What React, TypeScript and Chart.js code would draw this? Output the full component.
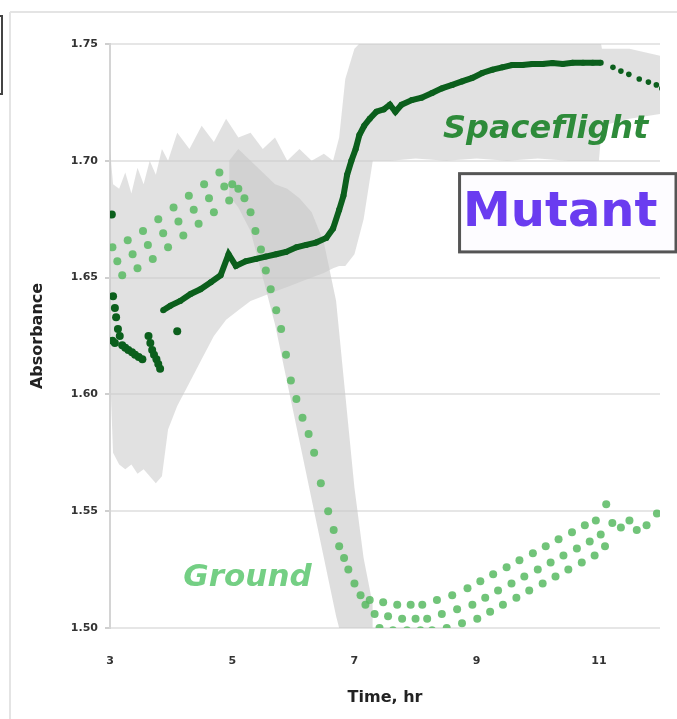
import React, { useEffect, useRef } from 'react';
import { Chart, registerables } from 'chart.js';
Chart.register(...registerables);

// Axis ticks
const xTicks = [3, 5, 7, 9, 11];
const yTickStep = 0.05;

// Spaceflight (dark green) – early falling streaks
const sfEarlyX = [3.03, 3.05, 3.08, 3.1, 3.13, 3.16, 3.04, 3.08, 3.2, 3.25, 3.3, 3.36, 3.41, 3.47, 3.53, 3.63, 3.66, 3.69, 3.72, 3.76, 3.79, 3.82, 4.1];
const sfEarlyY = [1.677, 1.642, 1.637, 1.633, 1.628, 1.625, 1.623, 1.622, 1.621, 1.62, 1.619, 1.618, 1.617, 1.616, 1.615, 1.625, 1.622, 1.619, 1.617, 1.615, 1.613, 1.611, 1.627];

// Spaceflight main curve
const sfMainX = [3.87, 3.99, 4.15, 4.32, 4.48, 4.65, 4.81, 4.94, 5.06, 5.22, 5.39, 5.55, 5.72, 5.88, 6.05, 6.21, 6.37, 6.54, 6.65, 6.75, 6.82, 6.88, 6.95, 7.02, 7.08, 7.16, 7.25, 7.36, 7.48, 7.58, 7.67, 7.77, 7.94, 8.1, 8.27, 8.43, 8.6, 8.76, 8.93, 9.09, 9.26, 9.42, 9.58, 9.75, 9.91, 10.08, 10.24, 10.41, 10.57, 10.74, 10.9, 11.03];
const sfMainY = [1.636, 1.638, 1.64, 1.643, 1.645, 1.648, 1.651, 1.66, 1.655, 1.657, 1.658, 1.659, 1.66, 1.661, 1.663, 1.664, 1.665, 1.667, 1.671, 1.679, 1.685, 1.694, 1.7, 1.705, 1.711, 1.715, 1.718, 1.721, 1.722, 1.724, 1.721, 1.724, 1.726, 1.727, 1.729, 1.731, 1.7325, 1.734, 1.7355, 1.7376, 1.739, 1.74, 1.741, 1.741, 1.7414, 1.7414, 1.7419, 1.7414, 1.742, 1.742, 1.742, 1.742];

// Spaceflight tail dots
const sfTailX = [11.23, 11.36, 11.49, 11.66, 11.81, 11.94, 12.03];
const sfTailY = [1.74, 1.7384, 1.737, 1.735, 1.7337, 1.7325, 1.731];

// Ground (light green) points
const groundX = [
  3.04, 3.12, 3.2, 3.29, 3.37, 3.45, 3.54, 3.62, 3.7, 3.79, 3.87, 3.95,
  4.04, 4.12, 4.2, 4.29, 4.37, 4.45, 4.54, 4.62, 4.7, 4.79, 4.87, 4.95,
  5.0, 5.1, 5.2, 5.3, 5.38, 5.47, 5.55, 5.63, 5.72, 5.8, 5.88, 5.96, 6.05, 6.15, 6.25, 6.34, 6.45, 6.57, 6.66, 6.75, 6.83, 6.9, 7.0, 7.1, 7.18,
  7.25, 7.33, 7.41, 7.47, 7.55, 7.63, 7.7, 7.78, 7.86, 7.92, 8.0, 8.08,
  8.11, 8.19, 8.27, 8.35, 8.43, 8.51, 8.6, 8.68, 8.76, 8.85, 8.93, 9.01,
  9.06, 9.14, 9.22, 9.27, 9.35, 9.43, 9.49, 9.57, 9.65, 9.7, 9.78, 9.86,
  9.92, 10.0, 10.08, 10.13, 10.21, 10.29, 10.34, 10.42, 10.5, 10.56, 10.64, 10.72,
  10.77, 10.85, 10.93, 10.95, 11.03, 11.1,
  11.12, 11.22, 11.36, 11.5, 11.62, 11.78, 11.95
];
const groundY = [
  1.663, 1.657, 1.651, 1.666, 1.66, 1.654, 1.67, 1.664, 1.658, 1.675, 1.669, 1.663,
  1.68, 1.674, 1.668, 1.685, 1.679, 1.673, 1.69, 1.684, 1.678, 1.695, 1.689, 1.683,
  1.69, 1.688, 1.684, 1.678, 1.67, 1.662, 1.653, 1.645, 1.636, 1.628, 1.617, 1.606, 1.598, 1.59, 1.583, 1.575, 1.562, 1.55, 1.542, 1.535, 1.53, 1.525, 1.519, 1.514, 1.51,
  1.512, 1.506, 1.5, 1.511, 1.505, 1.499, 1.51, 1.504, 1.499, 1.51, 1.504, 1.499,
  1.51, 1.504, 1.499, 1.512, 1.506, 1.5, 1.514, 1.508, 1.502, 1.517, 1.51, 1.504,
  1.52, 1.513, 1.507, 1.523, 1.516, 1.51, 1.526, 1.519, 1.513, 1.529, 1.522, 1.516,
  1.532, 1.525, 1.519, 1.535, 1.528, 1.522, 1.538, 1.531, 1.525, 1.541, 1.534, 1.528,
  1.544, 1.537, 1.531, 1.546, 1.54, 1.535,
  1.553, 1.545, 1.543, 1.546, 1.542, 1.544, 1.549
];

// Spaceflight error band
const sfBandX = [3.0, 3.05, 3.15, 3.25, 3.35, 3.45, 3.55, 3.65, 3.75, 3.85, 3.95, 4.1, 4.3, 4.5, 4.7, 4.9, 5.1, 5.3, 5.5, 5.7, 5.9, 6.1, 6.3, 6.5, 6.65, 6.75, 6.85, 7.0, 7.15, 7.3, 7.6, 8.0, 8.5, 9.0, 9.5, 10.0, 10.5, 11.0, 11.05, 11.5, 12.0];
const sfBandUpper = [1.705, 1.69, 1.688, 1.695, 1.686, 1.697, 1.69, 1.7, 1.694, 1.705, 1.7, 1.712, 1.705, 1.715, 1.708, 1.718, 1.71, 1.712, 1.705, 1.71, 1.7, 1.705, 1.7, 1.703, 1.7, 1.71, 1.735, 1.748, 1.752, 1.755, 1.755, 1.755, 1.755, 1.755, 1.755, 1.755, 1.755, 1.755, 1.748, 1.748, 1.745];
const sfBandLower = [1.61, 1.575, 1.57, 1.568, 1.57, 1.566, 1.568, 1.565, 1.562, 1.565, 1.585, 1.595, 1.605, 1.615, 1.625, 1.632, 1.636, 1.64, 1.642, 1.644, 1.646, 1.648, 1.65, 1.652, 1.654, 1.655, 1.655, 1.66, 1.675, 1.7, 1.7, 1.701, 1.7, 1.701, 1.7, 1.701, 1.7, 1.7, 1.715, 1.718, 1.72];

// Ground error band
const gBandX = [4.95, 5.1, 5.3, 5.5, 5.7, 5.9, 6.1, 6.3, 6.5, 6.7, 6.85, 7.0, 7.15, 7.3];
const gBandUpper = [1.7, 1.705, 1.7, 1.695, 1.69, 1.688, 1.684, 1.678, 1.665, 1.64, 1.6, 1.56, 1.53, 1.51];
const gBandLower = [1.685, 1.68, 1.67, 1.65, 1.63, 1.605, 1.58, 1.555, 1.53, 1.505, 1.49, 1.49, 1.49, 1.49];

const zip = (xs: number[], ys: number[]) => xs.map((x, i) => ({ x, y: ys[i] }));

const DARK = '#0b5f1c';

const decor = {
  id: 'decor',
  beforeDraw(chart: any) {
    const { ctx, width, height } = chart;
    ctx.save();
    ctx.fillStyle = '#ffffff';
    ctx.fillRect(0, 0, width, height);
    ctx.strokeStyle = '#e4e4e4';
    ctx.lineWidth = 2;
    ctx.beginPath();
    ctx.moveTo(10, 12);
    ctx.lineTo(width, 12);
    ctx.moveTo(10, 12);
    ctx.lineTo(10, height);
    ctx.stroke();
    ctx.strokeStyle = '#444';
    ctx.lineWidth = 2;
    ctx.strokeRect(-4, 16, 6, 78);
    ctx.restore();
  },
  afterDraw(chart: any) {
    const { ctx, width } = chart;
    const xs = chart.scales.x;
    const ys = chart.scales.y;
    ctx.save();
    ctx.textAlign = 'center';
    ctx.textBaseline = 'middle';
    ctx.fillStyle = '#2e8b3a';
    ctx.font = 'italic bold 32px "DejaVu Sans"';
    ctx.fillText('Spaceflight', xs.getPixelForValue(10.13), ys.getPixelForValue(1.7135));
    ctx.fillStyle = '#74cf84';
    ctx.font = 'italic bold 31px "DejaVu Sans"';
    ctx.fillText('Ground', xs.getPixelForValue(5.25), ys.getPixelForValue(1.5214));
    const left = xs.getPixelForValue(8.72);
    const top = ys.getPixelForValue(1.6945);
    const bottom = ys.getPixelForValue(1.661);
    ctx.fillStyle = '#fdfcff';
    ctx.fillRect(left, top, width - 1 - left, bottom - top);
    ctx.strokeStyle = '#555';
    ctx.lineWidth = 3;
    ctx.strokeRect(left, top, width - 1 - left, bottom - top);
    ctx.fillStyle = '#6a3cf0';
    ctx.font = 'bold 48px "DejaVu Sans"';
    ctx.fillText('Mutant', (left + width) / 2 - 8, (top + bottom) / 2 + 1);
    ctx.restore();
  },
};

export default function App() {
  const ref = useRef<HTMLCanvasElement>(null);
  useEffect(() => {
    document.body.style.margin = '0';
    const chart = new Chart(ref.current as HTMLCanvasElement, {
      type: 'line',
      data: {
        datasets: [
          { label: 'sfBandUpper', order: 10, data: zip(sfBandX, sfBandUpper), borderWidth: 0, pointRadius: 0, fill: false, borderColor: 'rgba(0,0,0,0)' },
          { label: 'sfBandLower', order: 9, data: zip(sfBandX, sfBandLower), borderWidth: 0, pointRadius: 0, fill: '-1', borderColor: 'rgba(0,0,0,0)', backgroundColor: 'rgba(200,200,200,0.55)' },
          { label: 'gBandUpper', order: 8, data: zip(gBandX, gBandUpper), borderWidth: 0, pointRadius: 0, fill: false, borderColor: 'rgba(0,0,0,0)' },
          { label: 'gBandLower', order: 7, data: zip(gBandX, gBandLower), borderWidth: 0, pointRadius: 0, fill: '-1', borderColor: 'rgba(0,0,0,0)', backgroundColor: 'rgba(200,200,200,0.6)' },
          { label: 'Ground', order: 4, data: zip(groundX, groundY), showLine: false, pointRadius: 4, pointBorderWidth: 0, pointBackgroundColor: 'rgba(88,186,98,0.85)', borderColor: 'rgba(88,186,98,0.85)' },
          { label: 'SpaceflightEarly', order: 3, data: zip(sfEarlyX, sfEarlyY), showLine: false, pointRadius: 4, pointBorderWidth: 0, pointBackgroundColor: DARK, borderColor: DARK },
          { label: 'Spaceflight', order: 2, data: zip(sfMainX, sfMainY), borderWidth: 6, borderColor: DARK, pointRadius: 3, pointBorderWidth: 0, pointBackgroundColor: DARK, fill: false, tension: 0 },
          { label: 'SpaceflightTail', order: 1, data: zip(sfTailX, sfTailY), showLine: false, pointRadius: 2.8, pointBorderWidth: 0, pointBackgroundColor: DARK, borderColor: DARK },
        ],
      },
      options: {
        responsive: false,
        animation: false,
        devicePixelRatio: 1,
        parsing: false as any,
        layout: { padding: { top: 44, right: 17, left: 0, bottom: 0 } },
        plugins: { legend: { display: false }, tooltip: { enabled: false } },
        scales: {
          x: {
            type: 'linear',
            min: 3,
            max: 12,
            afterBuildTicks: (scale: any) => { scale.ticks = xTicks.map((v) => ({ value: v })); },
            afterFit: (scale: any) => { scale.height = 91; },
            grid: { display: false, drawTicks: false },
            border: { display: false },
            ticks: { padding: 27, color: '#333', font: { family: 'DejaVu Sans', size: 11, weight: 'bold' } },
            title: { display: true, text: 'Time, hr', color: '#222', padding: { top: 0, bottom: 12 }, font: { family: 'DejaVu Sans', size: 16, weight: 'bold' } },
          },
          y: {
            min: 1.5,
            max: 1.75,
            afterFit: (scale: any) => { scale.width = 110; },
            ticks: { stepSize: yTickStep, padding: 7, color: '#333', callback: (v: any) => Number(v).toFixed(2), font: { family: 'DejaVu Sans', size: 11, weight: 'bold' } },
            grid: { color: '#e6e6e6', lineWidth: 2, tickLength: 5, tickColor: '#cfcfcf' },
            border: { display: true, color: '#d4d4d4', width: 2 },
            title: { display: true, text: 'Absorbance', color: '#222', padding: { top: 28, bottom: 0 }, font: { family: 'DejaVu Sans', size: 16, weight: 'bold' } },
          },
        },
      },
      plugins: [decor],
    } as any);
    return () => chart.destroy();
  }, []);
  return (
    <div style={{ width: 677, height: 719, position: 'relative' }}>
      <canvas ref={ref} width={677} height={719} style={{ display: 'block', filter: 'blur(0.5px)' }} />
    </div>
  );
}
